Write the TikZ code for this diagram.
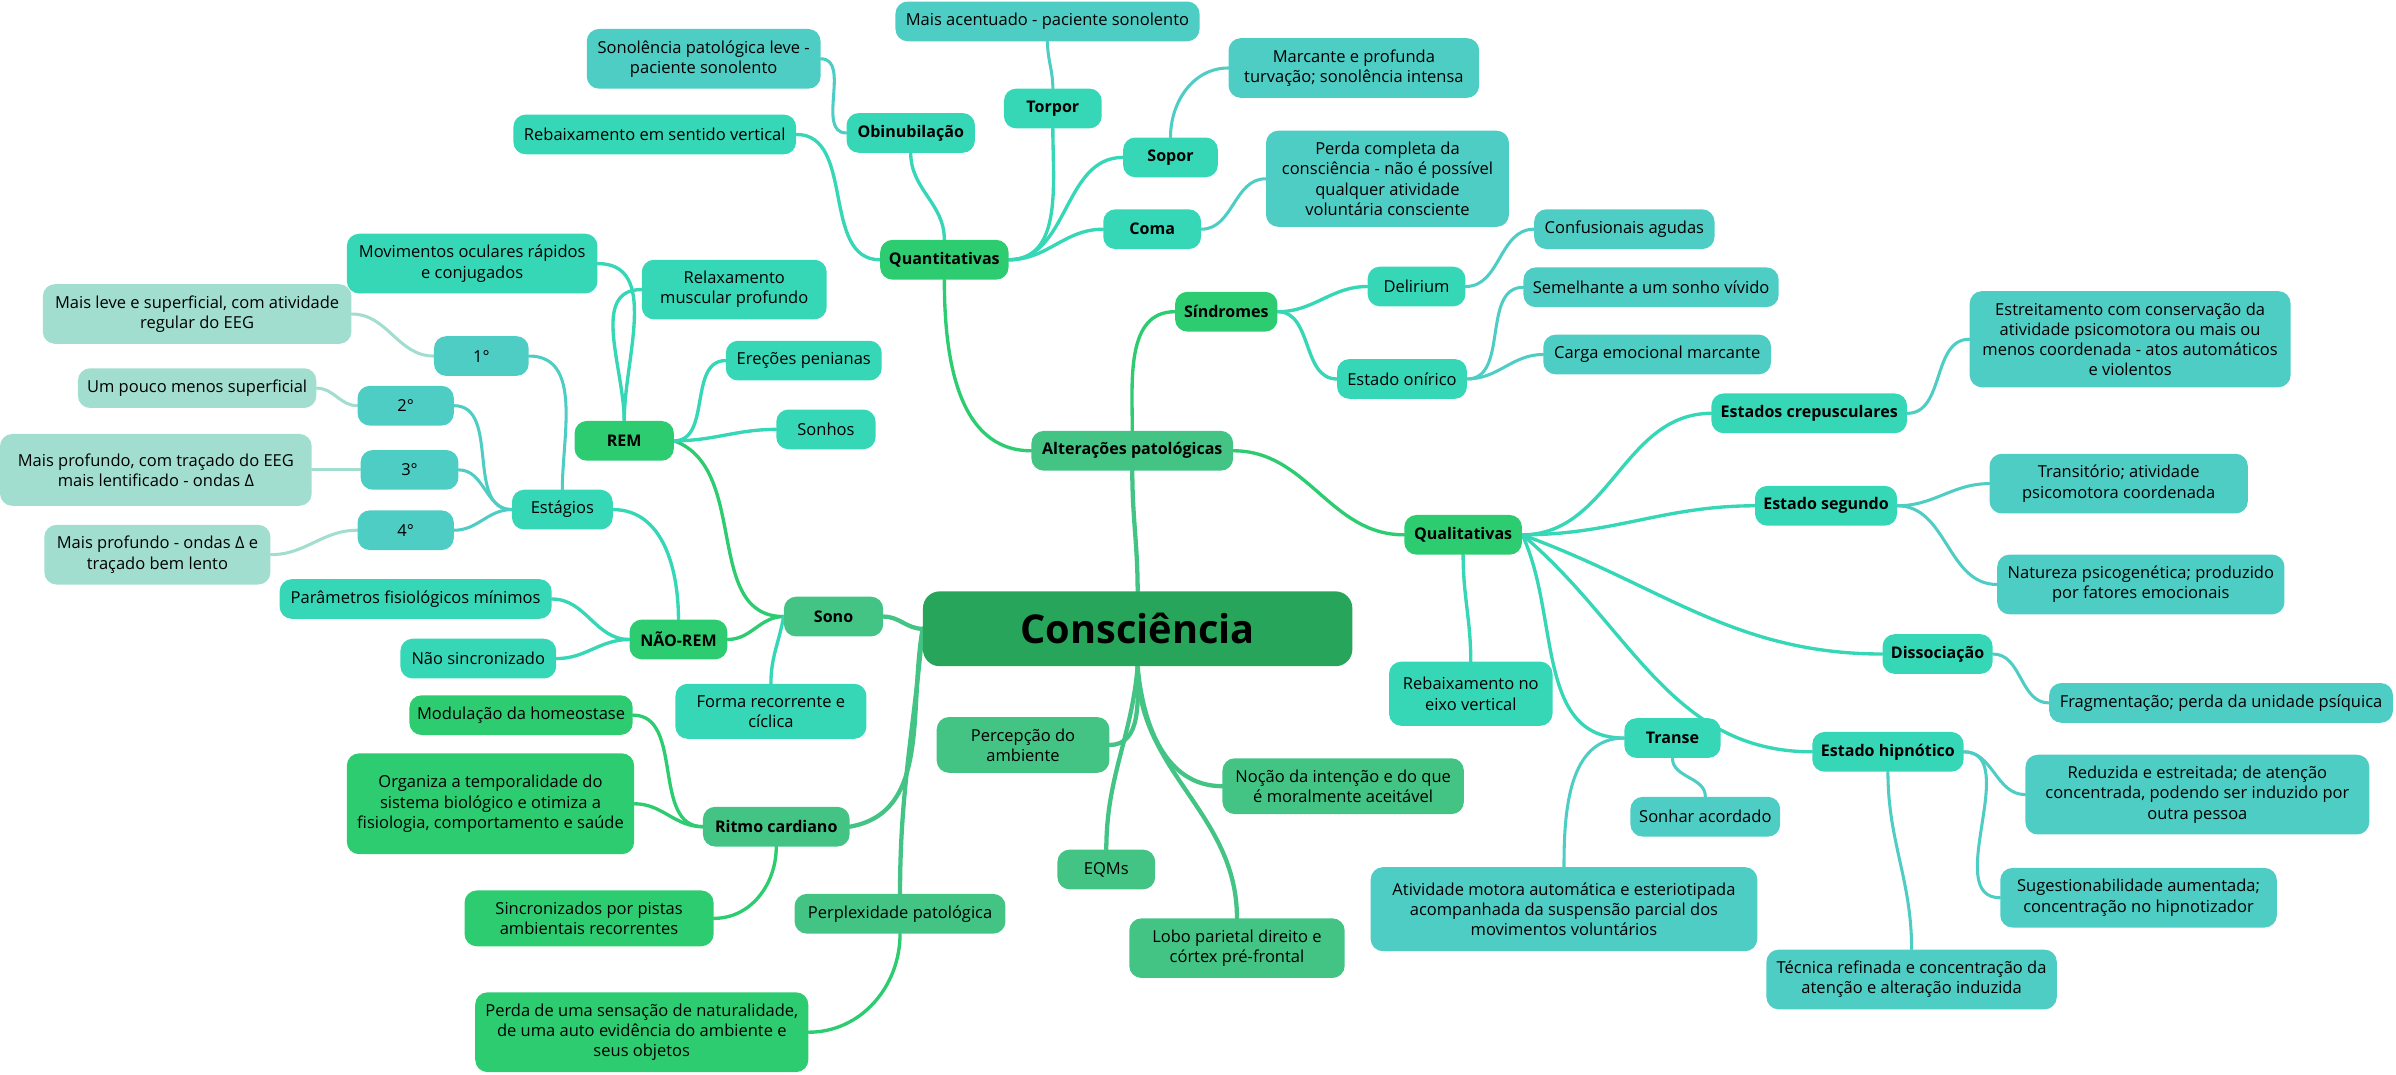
\documentclass[tikz,border=0pt]{standalone}
\usepackage{fontspec}
\setmainfont{Open Sans}
\usetikzlibrary{positioning}

\definecolor{craiz}{HTML}{27A65B}
\definecolor{cum}{HTML}{43C485}
\definecolor{cdois}{HTML}{2ECC71}
\definecolor{ctres}{HTML}{36D7B7}
\definecolor{cquatro}{HTML}{4ECDC4}
\definecolor{ccinco}{HTML}{A2DED0}

\pgfdeclarelayer{bg}
\pgfsetlayers{bg,main}

\tikzset{
  caixa/.style={rounded corners=8pt, align=center, minimum height=26pt,
    inner xsep=5pt, inner ysep=7.5pt, font=\fontsize{10.8}{13.2}\selectfont},
  raiz/.style={caixa, fill=craiz, rounded corners=11pt, minimum width=281pt,
    minimum height=49pt, font=\fontsize{26}{30}\selectfont\bfseries},
  nvum/.style={caixa, fill=cum},
  nvdois/.style={caixa, fill=cdois},
  nvtres/.style={caixa, fill=ctres},
  nvquatro/.style={caixa, fill=cquatro},
  nvcinco/.style={caixa, fill=ccinco},
  negrito/.style={font=\fontsize{10.5}{13}\selectfont\bfseries},
  lig/.style={line width=2.2pt, line cap=round},
  ligum/.style={lig, line width=2.8pt, draw=cum},
  ligdois/.style={lig, draw=cdois},
  ligtres/.style={lig, draw=ctres},
  ligquatro/.style={lig, line width=2pt, draw=cquatro},
  ligcinco/.style={lig, line width=2pt, draw=ccinco}
}

\begin{document}
\begin{tikzpicture}[x=1pt, y=-1pt]
\useasboundingbox (0,0) rectangle (1568,703);

% centro
\node[raiz] (raiz) at (744.5,411.5) {Consciência};

% primeiro nivel
\node[nvum, negrito, minimum width=132pt] (alt) at (741,295) {Alterações patológicas};
\node[nvum, negrito, minimum width=65pt] (sono) at (545.5,403.5) {Sono};
\node[nvum, negrito, minimum width=96pt] (ritmo) at (508,541) {Ritmo cardiano};
\node[nvum, minimum width=138pt] (perplex) at (589,598) {Perplexidade patológica};
\node[nvum, minimum width=113pt] (percep) at (669.5,487.5) {Percepção do\\ambiente};
\node[nvum, minimum width=64pt] (eqms) at (724,569) {EQMs};
\node[nvum, minimum width=158pt] (nocao) at (879,514.5) {Noção da intenção e do que\\é moralmente aceitável};
\node[nvum, minimum width=141pt] (lobo) at (809.5,620.5) {Lobo parietal direito e\\córtex pré-frontal};

% segundo nivel
\node[nvdois, negrito, minimum width=84pt] (quant) at (618,170) {Quantitativas};
\node[nvdois, negrito, minimum width=67pt] (sind) at (802.5,204) {Síndromes};
\node[nvdois, negrito, minimum width=77pt] (qual) at (957.5,350) {Qualitativas};
\node[nvdois, negrito, minimum width=65pt] (rem) at (408.5,288.5) {REM};
\node[nvdois, negrito, minimum width=64pt] (naorem) at (444,418.5) {NÃO-REM};
\node[nvdois, minimum width=138pt] (modul) at (341,468) {Modulação da homeostase};
\node[nvdois, minimum width=188pt, minimum height=66pt] (organ) at (321,526) {Organiza a temporalidade do\\sistema biológico e otimiza a\\fisiologia, comportamento e saúde};
\node[nvdois, minimum width=163pt] (sincr) at (385.5,601) {Sincronizados por pistas\\ambientais recorrentes};
\node[nvdois, minimum width=218pt] (perda) at (420,675.5) {Perda de uma sensação de naturalidade,\\de uma auto evidência do ambiente e\\seus objetos};

% terceiro nivel
\node[nvtres, negrito, minimum width=84pt] (obin) at (596,87) {Obinubilação};
\node[nvtres, minimum width=185pt] (rebsent) at (428.5,88) {Rebaixamento em sentido vertical};
\node[nvtres, negrito, minimum width=64pt] (torpor) at (689,71) {Torpor};
\node[nvtres, negrito, minimum width=62pt] (sopor) at (766,103) {Sopor};
\node[nvtres, negrito, minimum width=64pt] (coma) at (754,150) {Coma};
\node[nvtres, minimum width=64pt] (delir) at (927,187.5) {Delirium};
\node[nvtres, minimum width=85pt] (oniric) at (917.5,248) {Estado onírico};
\node[nvtres, negrito, minimum width=128pt] (crep) at (1184,270.5) {Estados crepusculares};
\node[nvtres, negrito, minimum width=93pt] (segundo) at (1195,331) {Estado segundo};
\node[nvtres, negrito, minimum width=72pt] (dissoc) at (1268,428) {Dissociação};
\node[nvtres, negrito, minimum width=99pt] (hipn) at (1235.5,492) {Estado hipnótico};
\node[nvtres, negrito, minimum width=63pt] (transe) at (1094.5,483) {Transe};
\node[nvtres, minimum width=107pt, minimum height=42pt] (rebeixo) at (962.5,454) {Rebaixamento no\\eixo vertical};
\node[nvtres, minimum width=164pt] (movim) at (309,172.5) {Movimentos oculares rápidos\\e conjugados};
\node[nvtres, minimum width=121pt] (relax) at (480.5,189.5) {Relaxamento\\muscular profundo};
\node[nvtres, minimum width=102pt] (erec) at (526,236) {Ereções penianas};
\node[nvtres, minimum width=65pt] (sonhos) at (540.5,281) {Sonhos};
\node[nvtres, minimum width=66pt] (estag) at (368,333.5) {Estágios};
\node[nvtres, minimum width=178pt] (param) at (272,392) {Parâmetros fisiológicos mínimos};
\node[nvtres, minimum width=102pt] (naosinc) at (313,431) {Não sincronizado};
\node[nvtres, minimum width=125pt] (forma) at (504.5,465.5) {Forma recorrente e\\cíclica};

% quarto nivel
\node[nvquatro, minimum width=153pt] (sonol) at (460.5,38.5) {Sonolência patológica leve -\\paciente sonolento};
\node[nvquatro, minimum width=199pt] (maisac) at (685.5,14) {Mais acentuado - paciente sonolento};
\node[nvquatro, minimum width=164pt] (marc) at (886,44.5) {Marcante e profunda\\turvação; sonolência intensa};
\node[nvquatro, minimum width=159pt] (perdac) at (908,117) {Perda completa da\\consciência - não é possível\\qualquer atividade\\voluntária consciente};
\node[nvquatro, minimum width=118pt] (confus) at (1063,150) {Confusionais agudas};
\node[nvquatro, minimum width=167pt] (semel) at (1080.5,188) {Semelhante a um sonho vívido};
\node[nvquatro, minimum width=149pt] (carga) at (1084.5,232) {Carga emocional marcante};
\node[nvquatro, minimum width=210pt] (estreit) at (1394,222) {Estreitamento com conservação da\\atividade psicomotora ou mais ou\\menos coordenada - atos automáticos\\e violentos};
\node[nvquatro, minimum width=169pt] (transit) at (1386.5,316.5) {Transitório; atividade\\psicomotora coordenada};
\node[nvquatro, minimum width=188pt] (natur) at (1401,382.5) {Natureza psicogenética; produzido\\por fatores emocionais};
\node[nvquatro, minimum width=225pt] (fragm) at (1453.5,460) {Fragmentação; perda da unidade psíquica};
\node[nvquatro, minimum width=225pt] (reduz) at (1438,520) {Reduzida e estreitada; de atenção\\concentrada, podendo ser induzido por\\outra pessoa};
\node[nvquatro, minimum width=181pt] (suges) at (1399.5,587.5) {Sugestionabilidade aumentada;\\concentração no hipnotizador};
\node[nvquatro, minimum width=190pt] (tecn) at (1251,641) {Técnica refinada e concentração da\\atenção e alteração induzida};
\node[nvquatro, minimum width=253pt, minimum height=55pt] (ativ) at (1023.5,595) {Atividade motora automática e esteriotipada\\acompanhada da suspensão parcial dos\\movimentos voluntários};
\node[nvquatro, minimum width=98pt] (sonhar) at (1116,534.5) {Sonhar acordado};
\node[nvquatro, minimum width=62pt] (g1) at (315,233) {1°};
\node[nvquatro, minimum width=63pt] (g2) at (265.5,265.5) {2°};
\node[nvquatro, minimum width=64pt] (g3) at (268,307.5) {3°};
\node[nvquatro, minimum width=63pt] (g4) at (265.5,347) {4°};

% quinto nivel
\node[nvcinco, minimum width=202pt] (leve1) at (129,205.5) {Mais leve e superficial, com atividade\\regular do EEG};
\node[nvcinco, minimum width=156pt] (leve2) at (129,254) {Um pouco menos superficial};
\node[nvcinco, minimum width=204pt, minimum height=47pt] (leve3) at (102,307.5) {Mais profundo, com traçado do EEG\\mais lentificado - ondas Δ};
\node[nvcinco, minimum width=148pt] (leve4) at (103,363) {Mais profundo - ondas Δ e\\traçado bem lento};

\begin{pgfonlayer}{bg}
% ligacoes da raiz
\draw[ligum] (raiz.north) to[out=90,in=-90] (alt.south);
\draw[ligum] (raiz.west) to[out=180,in=0] (sono.east);
\draw[ligum] (raiz.west) to[out=260,in=10] (ritmo.east);
\draw[ligum] (raiz.west) to[out=265,in=90] (perplex.north);
\draw[ligum] (raiz.south) to[out=-90,in=0] (percep.east);
\draw[ligum] (raiz.south) to[out=-95,in=90] (eqms.north);
\draw[ligum] (raiz.south) to[out=-85,in=180] (nocao.west);
\draw[ligum] (raiz.south) to[out=-90,in=90] (lobo.north);

% alteracoes
\draw[ligdois] (alt.west) to[out=180,in=-90] (quant.south);
\draw[ligdois] (alt.north) to[out=90,in=180] (sind.west);
\draw[ligdois] (alt.east) to[out=0,in=180] (qual.west);
\draw[ligtres] (quant.north) to[out=90,in=-90] (obin.south);
\draw[ligtres] (quant.west) to[out=180,in=0] (rebsent.east);
\draw[ligtres] (quant.east) to[out=0,in=-90] (torpor.south);
\draw[ligtres] (quant.east) to[out=0,in=180] (sopor.west);
\draw[ligtres] (quant.east) to[out=0,in=180] (coma.west);
\draw[ligquatro] (obin.west) to[out=180,in=0] (sonol.east);
\draw[ligquatro] (torpor.north) to[out=90,in=-90] (maisac.south);
\draw[ligquatro] (sopor.north) to[out=90,in=180] (marc.west);
\draw[ligquatro] (coma.east) to[out=0,in=180] (perdac.west);
\draw[ligtres] (sind.east) to[out=0,in=180] (delir.west);
\draw[ligtres] (sind.east) to[out=0,in=180] (oniric.west);
\draw[ligquatro] (delir.east) to[out=0,in=180] (confus.west);
\draw[ligquatro] (oniric.east) to[out=0,in=180] (semel.west);
\draw[ligquatro] (oniric.east) to[out=0,in=180] (carga.west);
\draw[ligtres] (qual.east) to[out=0,in=180] (crep.west);
\draw[ligtres] (qual.east) to[out=0,in=180] (segundo.west);
\draw[ligtres] (qual.east) to[out=-20,in=180] (dissoc.west);
\draw[ligtres] (qual.east) to[out=-40,in=180] (hipn.west);
\draw[ligtres] (qual.east) to[out=-65,in=180] (transe.west);
\draw[ligtres] (qual.south) to[out=-90,in=90] (rebeixo.north);
\draw[ligquatro] (crep.east) to[out=0,in=180] (estreit.west);
\draw[ligquatro] (segundo.east) to[out=0,in=180] (transit.west);
\draw[ligquatro] (segundo.east) to[out=0,in=180] (natur.west);
\draw[ligquatro] (dissoc.east) to[out=0,in=180] (fragm.west);
\draw[ligquatro] (hipn.east) to[out=0,in=180] (reduz.west);
\draw[ligquatro] (hipn.east) to[out=0,in=180] (suges.west);
\draw[ligquatro] (hipn.south) to[out=-90,in=90] (tecn.north);
\draw[ligquatro] (transe.west) to[out=180,in=90] (ativ.north);
\draw[ligquatro] (transe.south) to[out=-90,in=90] (sonhar.north);

% sono
\draw[ligdois] (rem.east) to[out=-20,in=180] (sono.west);
\draw[ligdois] (naorem.east) to[out=0,in=180] (sono.west);
\draw[ligtres] (sono.west) to[out=260,in=90] (forma.north);
\draw[ligtres] (rem.north) to[out=90,in=0] (movim.east);
\draw[ligtres] (rem.north) to[out=90,in=180] (relax.west);
\draw[ligtres] (rem.east) to[out=0,in=180] (erec.west);
\draw[ligtres] (rem.east) to[out=0,in=180] (sonhos.west);
\draw[ligtres] (estag.east) to[out=0,in=90] (naorem.north);
\draw[ligtres] (param.east) to[out=0,in=180] (naorem.west);
\draw[ligtres] (naosinc.east) to[out=0,in=180] (naorem.west);
\draw[ligquatro] (g1.east) to[out=0,in=90] (estag.north);
\draw[ligquatro] (g2.east) to[out=0,in=180] (estag.west);
\draw[ligquatro] (g3.east) to[out=0,in=180] (estag.west);
\draw[ligquatro] (g4.east) to[out=0,in=180] (estag.west);
\draw[ligcinco] (leve1.east) to[out=0,in=180] (g1.west);
\draw[ligcinco] (leve2.east) to[out=0,in=180] (g2.west);
\draw[ligcinco] (leve3.east) to[out=0,in=180] (g3.west);
\draw[ligcinco] (leve4.east) to[out=0,in=180] (g4.west);

% ritmo e perplexidade
\draw[ligdois] (modul.east) to[out=0,in=180] (ritmo.west);
\draw[ligdois] (organ.east) to[out=0,in=180] (ritmo.west);
\draw[ligdois] (ritmo.south) to[out=-90,in=0] (sincr.east);
\draw[ligdois] (perplex.south) to[out=-90,in=0] (perda.east);
\end{pgfonlayer}
\end{tikzpicture}
\end{document}
